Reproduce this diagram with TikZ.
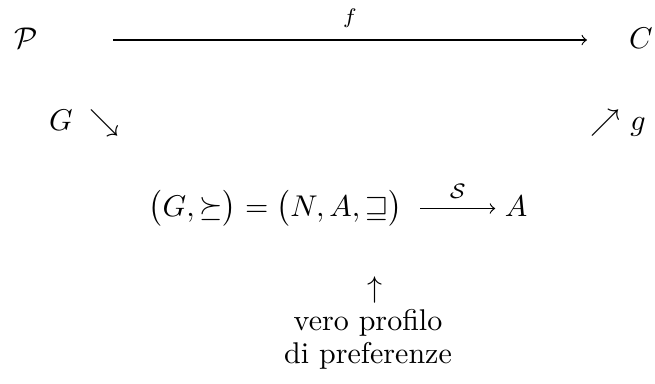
\documentclass[tikz,border=0pt]{standalone}
\usepackage{amsmath,amssymb}
\begin{document}
\begin{tikzpicture}[x=0.3333pt,y=-0.3333pt,
  lbl/.style={inner sep=0pt,anchor=base},
  arr/.style={-to,line width=0.4pt}]
\useasboundingbox (0,0) rectangle (655,383);
\node[lbl] (P) at (26,48) {$\mathcal{P}$};
\node[lbl] (C) at (641,48) {$C$};
\coordinate (fs) at (113,40);
\coordinate (fe) at (587,40);
\draw[arr] (fs) -- node[above=4pt,inner sep=0pt] (f) {$\scriptstyle f$} (fe);
\node[lbl] (G) at (61,130) {$G$};
\node[lbl] (se) at (104,130) {$\searrow$};
\node[lbl] (ne) at (605,130) {$\nearrow$};
\node[lbl] (g) at (638,130) {$g$};
\node[lbl,anchor=base east] (L) at (403,216) {$\bigl(G,\succeq\bigr) = \bigl(N,A,\sqsupseteq\bigr)$};
\node[lbl] (A) at (516,216) {$A$};
\draw[arr] ([xshift=5.7pt,yshift=2.5pt]L.base east) -- node[above=3pt,inner sep=0pt] (S) {$\scriptstyle\mathcal{S}$} ([xshift=-3pt,yshift=2.5pt]A.base west);
\node[lbl] (up) at (375,297) {$\uparrow$};
\node[lbl] (v1) at (368,330) {vero profilo};
\node[lbl] (v2) at (368,363) {di preferenze};
\end{tikzpicture}
\end{document}
